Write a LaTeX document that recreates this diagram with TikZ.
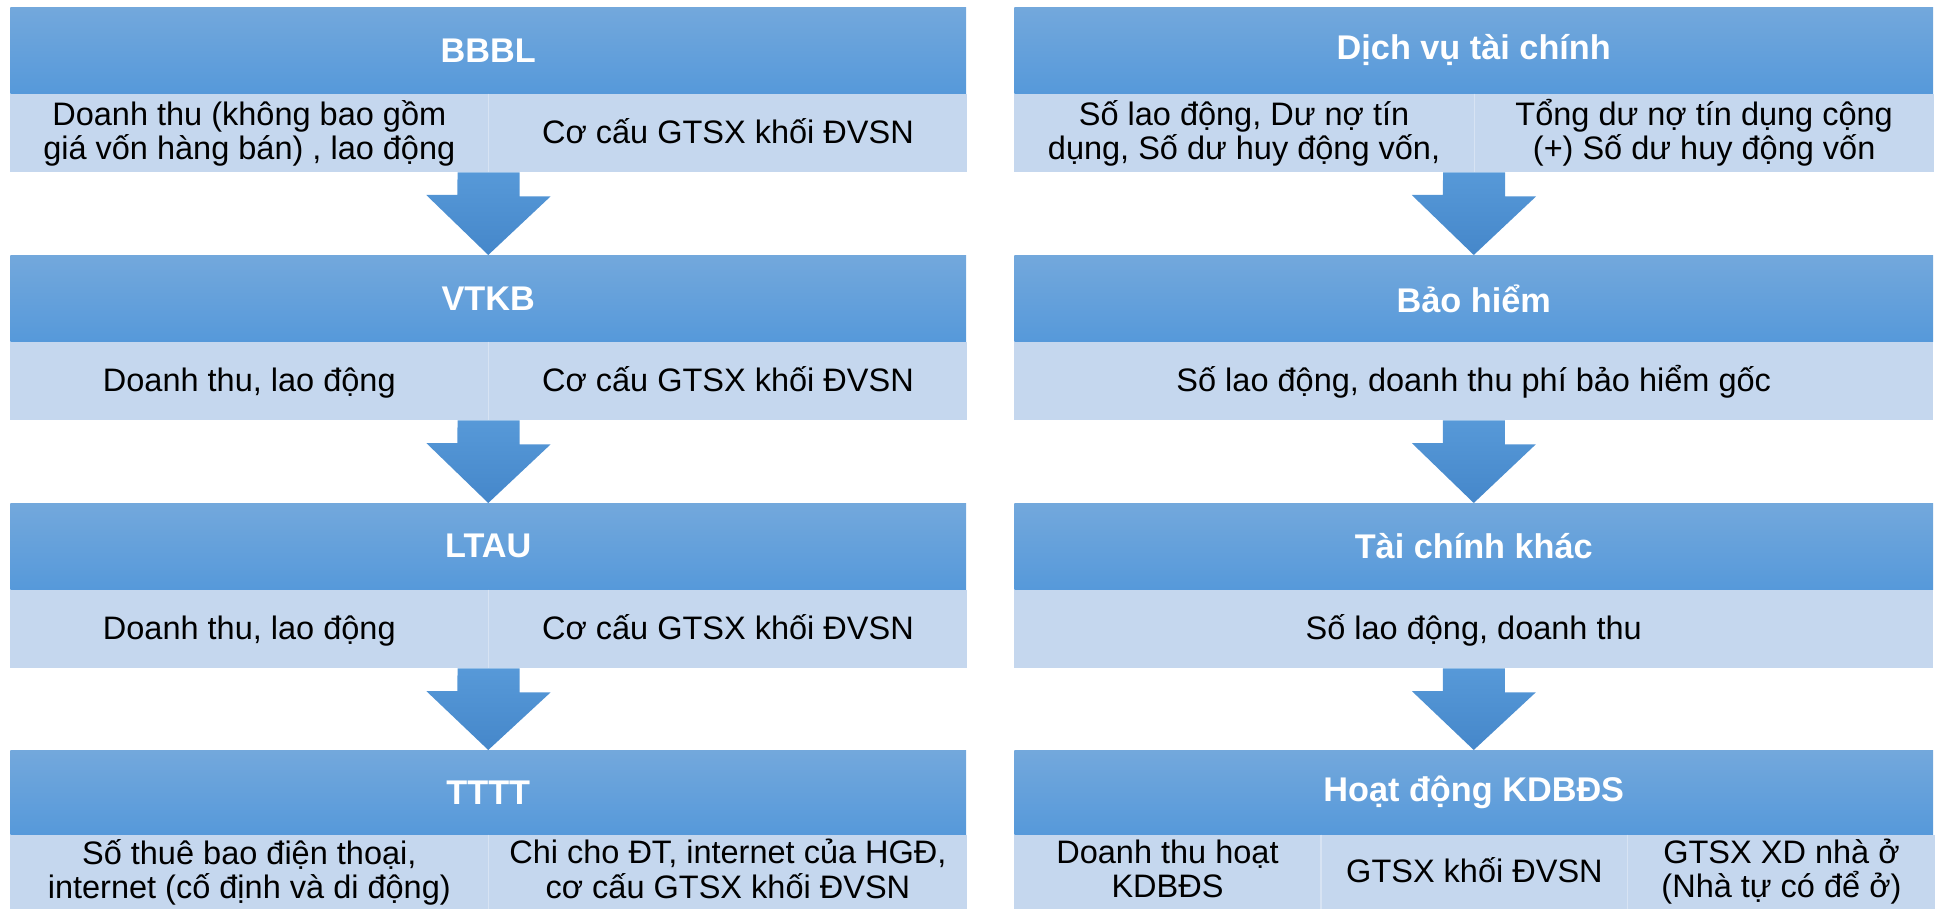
\documentclass[tikz,border=0pt]{standalone}
\usepackage{fontspec}
\setmainfont{Liberation Sans}
\usetikzlibrary{calc}
\definecolor{head top}{HTML}{73A8DC}
\definecolor{head bottom}{HTML}{5699DA}
\definecolor{cell blue}{HTML}{C5D7EE}
\definecolor{cell line}{HTML}{D7E3F3}
\definecolor{arrow top}{HTML}{5799D8}
\definecolor{arrow bottom}{HTML}{4587CA}
\newcommand{\blockheadfont}{\fontsize{19.5pt}{21pt}\selectfont\bfseries}
\newcommand{\blockcellfont}{\fontsize{18.5pt}{19.4pt}\selectfont}
\newcommand{\cellstrut}{\rule[-3.8pt]{0pt}{19.4pt}}
\tikzset{
  head/.style={anchor=north west, minimum height=1.72cm, inner sep=0pt,
    top color=head top, bottom color=head bottom, text=white, font=\blockheadfont},
  cell/.style={anchor=north west, minimum height=1.56cm, inner sep=0pt,
    fill=cell blue, align=center, font=\blockcellfont,
    execute at begin node=\cellstrut, execute at end node=\cellstrut},
  down arrow/.style={top color=arrow top, bottom color=arrow bottom},
  divider/.style={draw=cell line, line width=0.6pt}
}

\begin{document}
\begin{tikzpicture}[x=0.02cm, y=-0.02cm]
  \useasboundingbox (0,0) rectangle (1935,909);

  % left column
  \node[head, minimum width=19.12cm] (bbbl) at (10,7) {BBBL};
  \node[cell, minimum width=9.56cm] (bbbl-a) at (bbbl.south west) {Doanh thu (không bao gồm\\giá vốn hàng bán) , lao động};
  \node[cell, minimum width=9.56cm] (bbbl-b) at (bbbl-a.north east) {Cơ cấu GTSX khối ĐVSN};

  \node[head, minimum width=19.12cm] (vtkb) at (10,255) {VTKB};
  \node[cell, minimum width=9.56cm] (vtkb-a) at (vtkb.south west) {Doanh thu, lao động};
  \node[cell, minimum width=9.56cm] (vtkb-b) at (vtkb-a.north east) {Cơ cấu GTSX khối ĐVSN};

  \node[head, minimum width=19.12cm] (ltau) at (10,503) {LTAU};
  \node[cell, minimum width=9.56cm] (ltau-a) at (ltau.south west) {Doanh thu, lao động};
  \node[cell, minimum width=9.56cm] (ltau-b) at (ltau-a.north east) {Cơ cấu GTSX khối ĐVSN};

  \node[head, minimum width=19.12cm, minimum height=1.68cm] (tttt) at (10,750) {TTTT};
  \node[cell, minimum width=9.56cm, minimum height=1.48cm] (tttt-a) at (tttt.south west) {Số thuê bao điện thoại,\\internet (cố định và di động)};
  \node[cell, minimum width=9.56cm, minimum height=1.48cm] (tttt-b) at (tttt-a.north east) {Chi cho ĐT, internet của HGĐ,\\cơ cấu GTSX khối ĐVSN};

  % right column
  \node[head, minimum width=18.38cm] (dvtc) at (1014,7) {Dịch vụ tài chính};
  \node[cell, minimum width=9.19cm] (dvtc-a) at (dvtc.south west) {Số lao động, Dư nợ tín\\dụng, Số dư huy động vốn,};
  \node[cell, minimum width=9.19cm] (dvtc-b) at (dvtc-a.north east) {Tổng dư nợ tín dụng cộng\\(+) Số dư huy động vốn};

  \node[head, minimum width=18.38cm] (bh) at (1014,255) {Bảo hiểm};
  \node[cell, minimum width=18.38cm] (bh-a) at (bh.south west) {Số lao động, doanh thu phí bảo hiểm gốc};

  \node[head, minimum width=18.38cm] (tck) at (1014,503) {Tài chính khác};
  \node[cell, minimum width=18.38cm] (tck-a) at (tck.south west) {Số lao động, doanh thu};

  \node[head, minimum width=18.38cm, minimum height=1.68cm] (kdbds) at (1014,750) {Hoạt động KDBĐS};
  \node[cell, minimum width=6.1267cm, minimum height=1.48cm] (kdbds-a) at (kdbds.south west) {Doanh thu hoạt\\KDBĐS};
  \node[cell, minimum width=6.1267cm, minimum height=1.48cm] (kdbds-b) at (kdbds-a.north east) {GTSX khối ĐVSN};
  \node[cell, minimum width=6.1267cm, minimum height=1.48cm] (kdbds-c) at (kdbds-b.north east) {GTSX XD nhà ở\\(Nhà tự có để ở)};

  % cell dividers
  \draw[divider] (bbbl-a.north east) -- (bbbl-a.south east)
    (vtkb-a.north east) -- (vtkb-a.south east)
    (ltau-a.north east) -- (ltau-a.south east)
    (tttt-a.north east) -- (tttt-a.south east)
    (dvtc-a.north east) -- (dvtc-a.south east)
    (kdbds-a.north east) -- (kdbds-a.south east)
    (kdbds-b.north east) -- (kdbds-b.south east);

  % arrows
  \shade[down arrow] ($(bbbl-a.south east)+(-31,0)$) -- ++(62,0) -- ++(0,24) -- ++(31,0) -- (vtkb.north) -- ++(-62,-60) -- ++(31,0) -- cycle;
  \shade[down arrow] ($(vtkb-a.south east)+(-31,0)$) -- ++(62,0) -- ++(0,24) -- ++(31,0) -- (ltau.north) -- ++(-62,-60) -- ++(31,0) -- cycle;
  \shade[down arrow] ($(ltau-a.south east)+(-31,0)$) -- ++(62,0) -- ++(0,24) -- ++(31,0) -- (tttt.north) -- ++(-62,-59) -- ++(31,0) -- cycle;
  \shade[down arrow] ($(dvtc-a.south east)+(-31,0)$) -- ++(62,0) -- ++(0,24) -- ++(31,0) -- (bh.north) -- ++(-62,-60) -- ++(31,0) -- cycle;
  \shade[down arrow] ($(bh-a.south)+(-31,0)$) -- ++(62,0) -- ++(0,24) -- ++(31,0) -- (tck.north) -- ++(-62,-60) -- ++(31,0) -- cycle;
  \shade[down arrow] ($(tck-a.south)+(-31,0)$) -- ++(62,0) -- ++(0,24) -- ++(31,0) -- (kdbds.north) -- ++(-62,-59) -- ++(31,0) -- cycle;
\end{tikzpicture}
\end{document}
